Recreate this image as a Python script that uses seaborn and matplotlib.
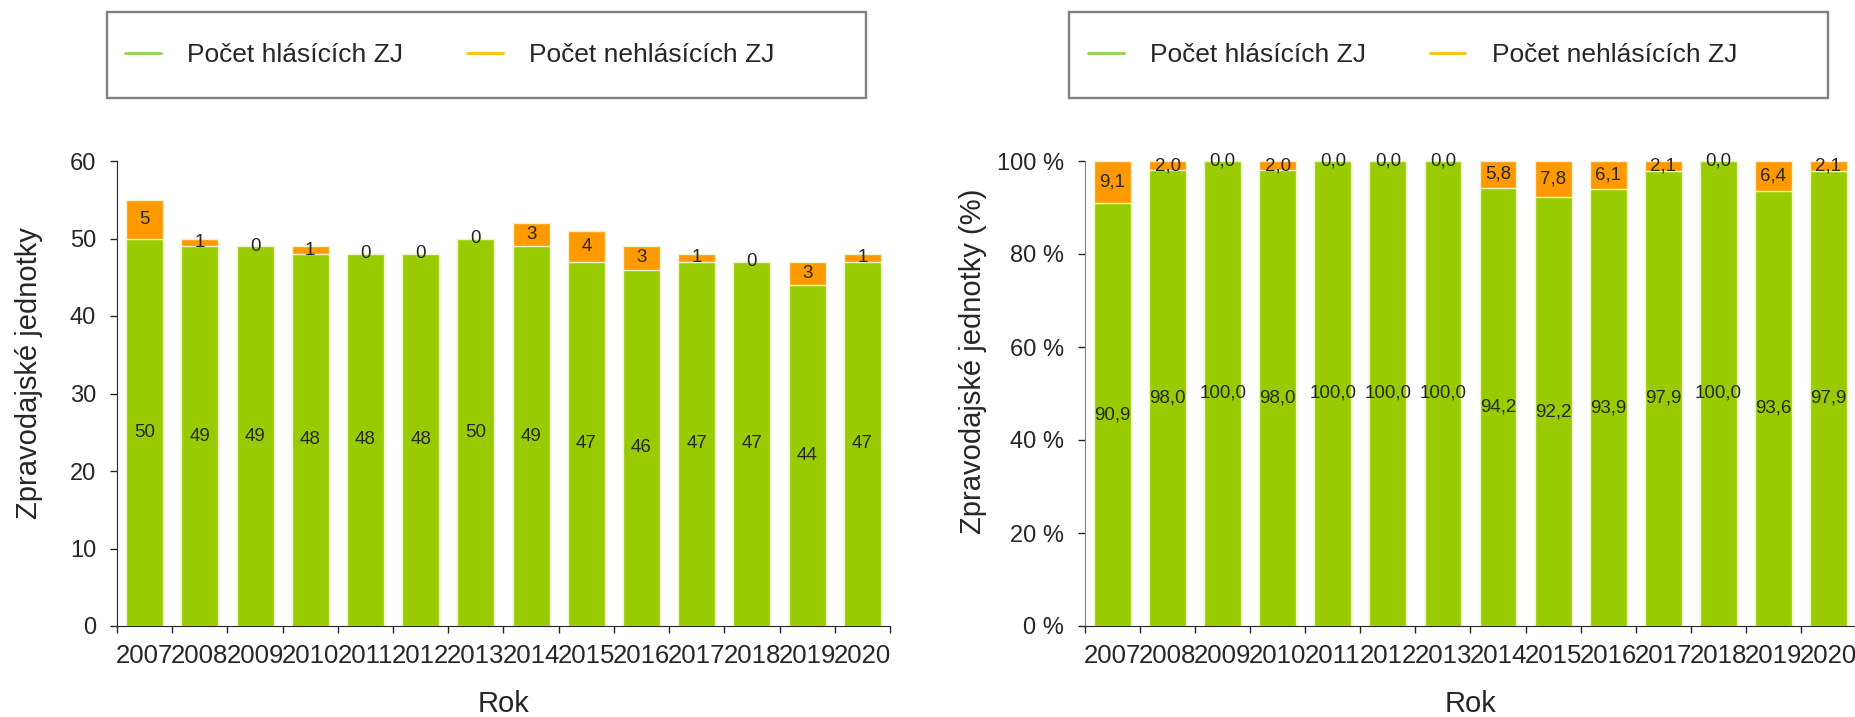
#%% Load dependencies
import numpy as np
import pandas as pd
import seaborn as sns
import matplotlib.pyplot as plt
from matplotlib.lines import Line2D
from matplotlib.patches import Rectangle

#%% Data
roky = ['2007', '2008', '2009', '2010', '2011', '2012', '2013',
        '2014', '2015', '2016', '2017', '2018', '2019', '2020']

hlasici = [50, 49, 49, 48, 48, 48, 50, 49, 47, 46, 47, 47, 44, 47]
nehlasici = [5, 1, 0, 1, 0, 0, 0, 3, 4, 3, 1, 0, 3, 1]

hlasici_pct = [90.9, 98.0, 100.0, 98.0, 100.0, 100.0, 100.0,
               94.2, 92.2, 93.9, 97.9, 100.0, 93.6, 97.9]
nehlasici_pct = [9.1, 2.0, 0.0, 2.0, 0.0, 0.0, 0.0,
                 5.8, 7.8, 6.1, 2.1, 0.0, 6.4, 2.1]

legendLabels = ['Počet hlásících ZJ', 'Počet nehlásících ZJ']

#%% Plot settings
sns.set_style('ticks')
plt.rcParams['font.family'] = ['Liberation Sans', 'DejaVu Sans']

ZELENA = '#99CC00'
ORANZOVA = '#FF9900'
ZELENA_LEG = '#92D050'
ORANZOVA_LEG = '#FFC000'
OKRAJ = '#EEF4C8'

W, H = 1856, 717
fig = plt.figure(figsize=(W / 100, H / 100), dpi=100)

ax1 = fig.add_axes([117 / W, 91 / H, 773 / W, 465 / H])
ax2 = fig.add_axes([1085 / W, 91 / H, 771 / W, 465 / H])


def fmtInt(v):
    return f'{v:.0f}'


def fmtDec(v):
    return f'{v:.1f}'.replace('.', ',')


def drawStack(ax, green, orange, fmt):
    df = pd.DataFrame({'rok': roky, 'g': green, 'o': orange})
    df['total'] = df.g + df.o
    # orange drawn as the total, green drawn over it
    sns.barplot(data=df, x='rok', y='total', order=roky, color=ORANZOVA, saturation=1,
                width=0.67, edgecolor=OKRAJ, linewidth=1, ax=ax)
    sns.barplot(data=df, x='rok', y='g', order=roky, color=ZELENA, saturation=1,
                width=0.67, edgecolor=OKRAJ, linewidth=1, ax=ax)
    for i, row in df.iterrows():
        ax.text(i, row.g / 2, fmt(row.g), ha='center', va='center', fontsize=13.5)
        ax.text(i, row.g + row.o / 2, fmt(row.o), ha='center', va='center', fontsize=13.5)

    ax.set_xlim(-0.5, len(roky) - 0.5)
    ax.set_xticks(np.arange(len(roky)))
    ax.set_xticklabels(roky)
    ax.set_xticks(np.arange(-0.5, len(roky), 1), minor=True)
    ax.tick_params(axis='x', which='major', length=0, pad=13, labelsize=18.5)
    ax.tick_params(axis='x', which='minor', length=5, width=1, direction='out')
    ax.tick_params(axis='y', length=5, width=1, pad=10, labelsize=17)
    ax.spines['top'].set_visible(False)
    ax.spines['right'].set_visible(False)
    ax.set_xlabel('Rok', fontsize=21)
    ax.xaxis.set_label_coords(0.5, -0.138)


#%% left: counts
drawStack(ax1, hlasici, nehlasici, fmtInt)
ax1.set_ylim(0, 60)
ax1.set_yticks(np.arange(0, 61, 10))
ax1.set_ylabel('Zpravodajské jednotky', fontsize=21)
ax1.yaxis.set_label_coords(-0.096, 0.544)

#%% right: percentages
drawStack(ax2, hlasici_pct, nehlasici_pct, fmtDec)
ax2.set_ylim(0, 100)
ax2.set_yticks(np.arange(0, 101, 20))
ax2.set_yticklabels([f'{t} %' for t in range(0, 101, 20)])
ax2.spines['left'].set_color('#7F7F7F')
ax2.set_ylabel('Zpravodajské jednotky (%)', fontsize=21)
ax2.yaxis.set_label_coords(-0.127, 0.57)

#%% legends with separate boxes
handles = [Line2D([], [], color=ZELENA_LEG, lw=2),
           Line2D([], [], color=ORANZOVA_LEG, lw=2)]

for boxX, boxW, legX in [(107, 759, 125), (1069, 759, 1088)]:
    fig.legend(handles, legendLabels, loc='center left',
               bbox_to_anchor=(legX / W, 1 - 55 / H), frameon=False, ncol=2,
               fontsize=19, handlelength=1.36, handletextpad=1.0,
               columnspacing=2.4, borderpad=0, borderaxespad=0)
    fig.add_artist(Rectangle((boxX / W, 1 - 98 / H), boxW / W, 86 / H,
                             transform=fig.transFigure, fill=False,
                             edgecolor='#808080', lw=1.7))

plt.savefig('out.png', dpi=100)
plt.close()
